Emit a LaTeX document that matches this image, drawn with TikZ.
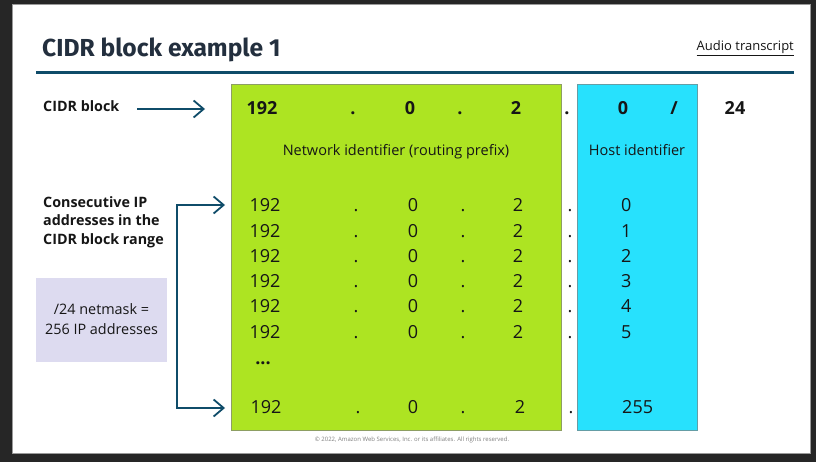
\documentclass[tikz,border=0pt]{standalone}
\usepackage{fontspec}
\setmainfont{Open Sans}
\newfontfamily\titlefont{Fira Sans}
\usetikzlibrary{arrows.meta}
\definecolor{pagebg}{HTML}{262626}
\definecolor{slideedge}{HTML}{9A9A9A}
\definecolor{navy}{HTML}{232F3E}
\definecolor{teal}{HTML}{0F4C69}
\definecolor{netgreen}{HTML}{ADE422}
\definecolor{hostcyan}{HTML}{27E1FD}
\definecolor{notefill}{HTML}{DDDBF0}
\definecolor{ink}{HTML}{161616}
\tikzset{
  x=1pt, y=-1pt,
  lbl/.style={font=\fontsize{14.3}{18}\selectfont\bfseries, text=ink, inner sep=0pt, align=left},
  hdr/.style={font=\fontsize{18}{20}\selectfont\bfseries, text=ink, inner sep=0pt, anchor=base},
  num/.style={font=\fontsize{18}{20}\selectfont, text=ink, inner sep=0pt, anchor=base},
  idcap/.style={font=\fontsize{14.5}{16}\selectfont, text=ink, inner sep=0pt},
  pointer/.style={draw=teal, line width=1.8pt, -{Straight Barb[length=10pt,width=17pt,line width=1.8pt]}},
}
\begin{document}
\begin{tikzpicture}
% page and slide
\fill[pagebg] (0,0) rectangle (816,462);
\fill[white, draw=slideedge, line width=0.8pt] (12,4) rectangle (810,453);
\useasboundingbox (0,0) rectangle (816,462);

% heading
\node[anchor=base west, inner sep=0pt, text=navy, font=\titlefont\fontsize{24.6}{28}\selectfont\bfseries] (title) at (42,57) {CIDR block example 1};
\node[anchor=base east, inner sep=0pt, text=ink, font=\fontsize{13}{15}\selectfont] (audio) at (794,51) {\underline{Audio transcript}};
\draw[teal, line width=3pt] (36,73) -- (794,73);

% identifier columns
\node[draw=gray!70!netgreen, fill=netgreen, line width=0.8pt, minimum width=330pt, minimum height=346pt, anchor=north west, inner sep=0pt] (net) at (231,84) {};
\node[draw=gray!70!hostcyan, fill=hostcyan, line width=0.8pt, minimum width=120pt, minimum height=346pt, anchor=north west, inner sep=0pt] (host) at (577,84) {};

% CIDR block line
\node[hdr] (c1) at (262,114.5) {192};
\node[hdr] (c2) at (353,114.5) {.};
\node[hdr] (c3) at (410,114.5) {0};
\node[hdr] (c4) at (460,114.5) {.};
\node[hdr] (c5) at (516,114.5) {2};
\node[hdr] (c6) at (567,114.5) {.};
\node[hdr] (c7) at (623,114.5) {0};
\node[hdr] (c8) at (674,114.5) {/};
\node[hdr] (c9) at (735,114.5) {24};

\node[idcap] (netcap) at (396,152) {Network identifier (routing prefix)};
\node[idcap] (hostcap) at (637,150) {Host identifier};

% left-hand labels
\node[lbl, anchor=west] (cidrlbl) at (43,106) {CIDR block};
\node[lbl, anchor=north west, font=\fontsize{14.3}{18.7}\selectfont\bfseries] (conslbl) at (43,196) {Consecutive IP\\addresses in the\\CIDR block range};
\node[fill=notefill, minimum width=131pt, minimum height=84pt, anchor=north west, inner sep=0pt] (note) at (36,278) {};
\node[font=\fontsize{14.4}{19.5}\selectfont, text=ink, align=center, inner sep=0pt] (notetxt) at (101.5,319) {/24 netmask =\\256 IP addresses};

% address rows
\foreach \i/\h in {0/0,1/1,2/2,3/3,4/4,5/5}{
  \pgfmathsetmacro{\yb}{212+25.2*\i}
  \node[num] (a\i) at (265,\yb) {192};
  \node[num] (b\i) at (356,\yb) {.};
  \node[num] (o\i) at (413,\yb) {0};
  \node[num] (d\i) at (463,\yb) {.};
  \node[num] (t\i) at (518,\yb) {2};
  \node[num] (e\i) at (570,\yb) {.};
  \node[num, anchor=base west] (h\i) at (621,\yb) {\h};
}
\node[num, font=\fontsize{18}{20}\selectfont\bfseries] (dots) at (263,364) {...};
\node[num] (az) at (266,413.5) {192};
\node[num] (bz) at (358,413.5) {.};
\node[num] (oz) at (413,413.5) {0};
\node[num] (dz) at (463,413.5) {.};
\node[num] (tz) at (520,413.5) {2};
\node[num] (ez) at (571,413.5) {.};
\node[num, anchor=base west] (hz) at (622,413.5) {255};

% pointers
\coordinate (cidrfrom) at (137,109);
\coordinate (cidrto) at (205,109);
\draw[pointer] (cidrfrom) -- (cidrto);
\coordinate (brtop) at (177,205);
\coordinate (brbot) at (177,408);
\coordinate (firstrow) at (225,205);
\coordinate (lastrow) at (225,408);
\draw[pointer] (brbot) -- (brtop) -- (firstrow);
\draw[pointer] (brtop) -- (brbot) -- (lastrow);

% footer
\node[font=\fontsize{6}{7}\selectfont, text=gray, inner sep=0pt] (copy) at (412,440) {\textcopyright{} 2022, Amazon Web Services, Inc. or its affiliates. All rights reserved.};
\end{tikzpicture}
\end{document}
